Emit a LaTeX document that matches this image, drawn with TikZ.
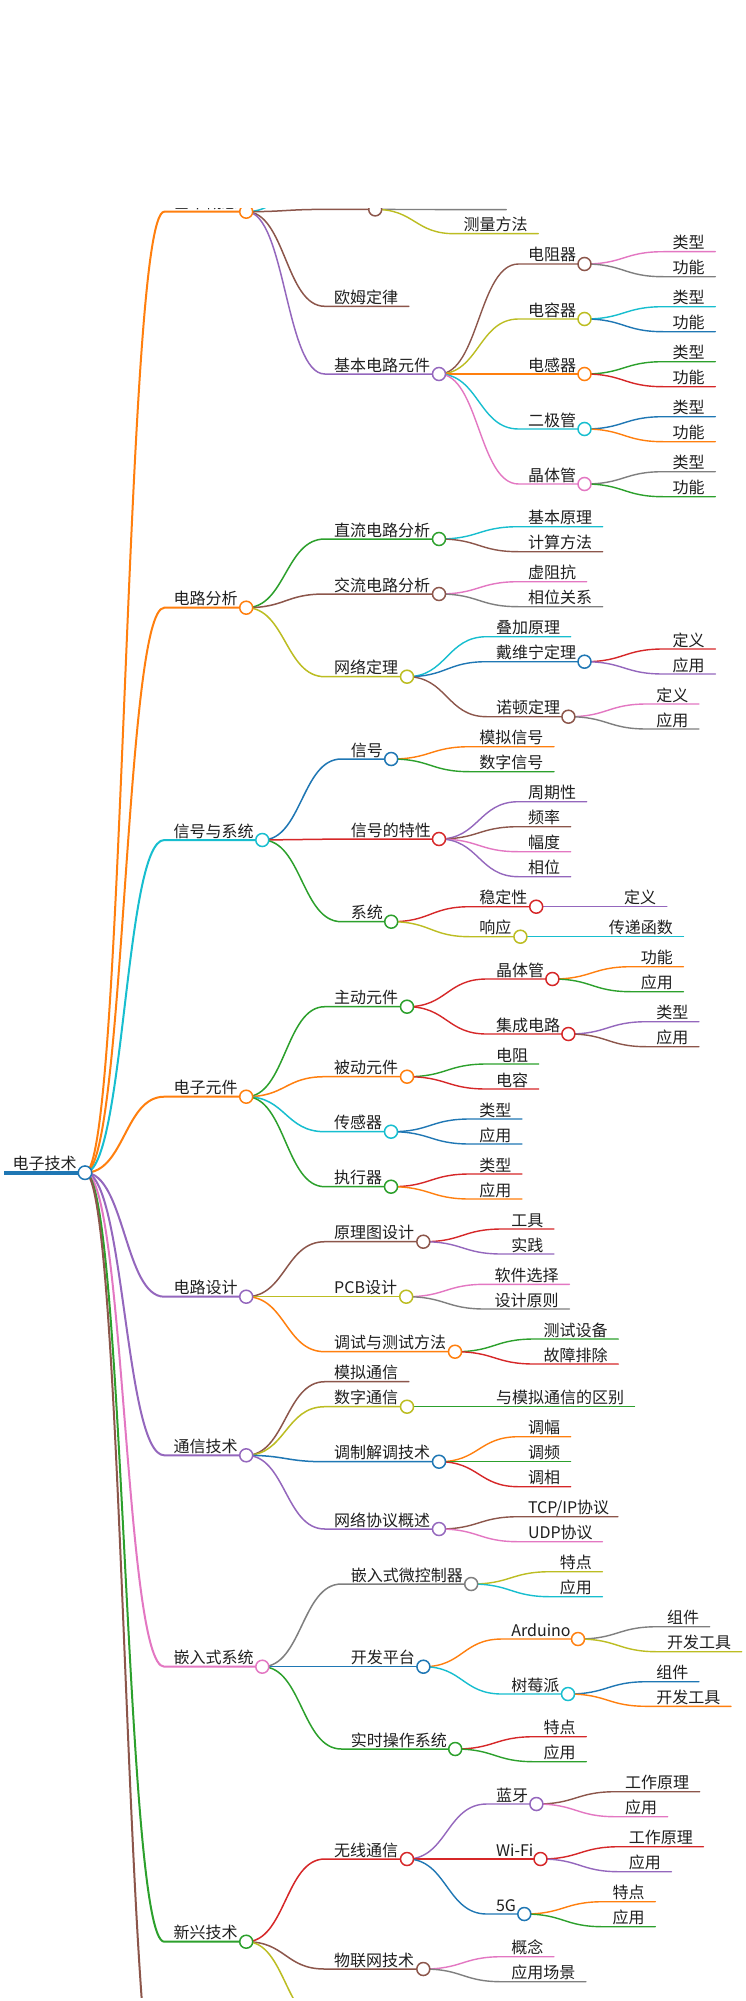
\documentclass[tikz,border=0pt]{standalone}
\usepackage{fontspec}
\setmainfont{Noto Sans CJK SC}
\usetikzlibrary{calc}
\definecolor{cblue}{HTML}{1F77B4}
\definecolor{corange}{HTML}{FF7F0E}
\definecolor{cgreen}{HTML}{2CA02C}
\definecolor{cred}{HTML}{D62728}
\definecolor{cpurple}{HTML}{9467BD}
\definecolor{cbrown}{HTML}{8C564B}
\definecolor{cpink}{HTML}{E377C2}
\definecolor{cgray}{HTML}{7F7F7F}
\definecolor{colive}{HTML}{BCBD22}
\definecolor{cteal}{HTML}{17BECF}
\tikzset{
  lvA/.style={line width=2pt},
  lvB/.style={line width=1.5pt},
  lvC/.style={line width=1.4pt},
  link/.style={line cap=round},
  dotmark/.style={circle,fill=white,line width=1.5pt,minimum size=13pt,inner sep=0pt},
  lbl/.style={anchor=base west,inner sep=0pt,text=black!88,font=\fontsize{16}{18}\selectfont},
}
% connector pass
\newcommand{\ConnPass}[7]{%
  \coordinate (#1s) at (#5,#7);
  \coordinate (#1) at (#6,#7);
  \draw[link,#3,#4] (#2) .. controls ($(#2)!0.5!(#2 -| #1s)$) and ($(#1s)!0.5!(#1s -| #2)$) .. (#1s) -- (#1);
}
\newcommand{\BrA}[8]{\ConnPass{#1}{#2}{#3}{#4}{#5}{#6}{#7}}
\newcommand{\LfA}[8]{\ConnPass{#1}{#2}{#3}{#4}{#5}{#6}{#7}}
\newcommand{\BnA}[7]{\ConnPass{#1}{#2}{#3}{#4}{#5}{#6}{#7}}
\newcommand{\CnA}[7]{\ConnPass{#1}{#2}{#3}{#4}{#5}{#6}{#7}}
% marks and labels pass
\newcommand{\BrB}[8]{%
  \node[dotmark,draw=#3] (#1dot) at (#1) {};
  \node[lbl] (#1txt) at ([xshift=9.2pt,yshift=3pt]#1s) {#8};
}
\newcommand{\LfB}[8]{%
  \node[lbl] (#1txt) at ([xshift=9.2pt,yshift=3pt]#1s) {#8};
}
\newcommand{\BnB}[7]{\node[dotmark,draw=#3] (#1dot) at (#1) {};}
\newcommand{\CnB}[7]{}
\newcommand{\TreeData}{%
% 1 basic
\Br{a}{r}{corange}{lvA}{164.3}{246.2}{211.7}{基本概念}
\Cn{az}{a}{cteal}{lvB}{324.8}{380}{170}
\Bn{aa}{a}{cbrown}{lvB}{324.8}{375.2}{209.4}
\Cn{aaa}{aa}{cgray}{lvC}{454.3}{506.2}{209.6}
\Lf{aab}{aa}{colive}{lvC}{454.3}{538.3}{233.7}{测量方法}
\Lf{ab}{a}{cbrown}{lvB}{324.8}{408.8}{306.3}{欧姆定律}
\Br{ac}{a}{cpurple}{lvB}{324.8}{439}{374}{基本电路元件}
\Br{aca}{ac}{cbrown}{lvC}{518.6}{584.5}{264}{电阻器}
\Lf{acaa}{aca}{cpink}{lvC}{663.3}{715.3}{251.7}{类型}
\Lf{acab}{aca}{cgray}{lvC}{663.3}{715.3}{276.7}{功能}
\Br{acb}{ac}{colive}{lvC}{518.6}{584.5}{319}{电容器}
\Lf{acba}{acb}{cteal}{lvC}{663.3}{715.3}{306.7}{类型}
\Lf{acbb}{acb}{cblue}{lvC}{663.3}{715.3}{331.7}{功能}
\Br{acc}{ac}{corange}{lvC}{518.6}{584.5}{374}{电感器}
\Lf{acca}{acc}{cgreen}{lvC}{663.3}{715.3}{361.7}{类型}
\Lf{accb}{acc}{cred}{lvC}{663.3}{715.3}{386.7}{功能}
\Br{acd}{ac}{cteal}{lvC}{518.6}{584.5}{429}{二极管}
\Lf{acda}{acd}{cblue}{lvC}{663.3}{715.3}{416.7}{类型}
\Lf{acdb}{acd}{corange}{lvC}{663.3}{715.3}{441.7}{功能}
\Br{ace}{ac}{cpink}{lvC}{518.6}{584.5}{484}{晶体管}
\Lf{acea}{ace}{cgray}{lvC}{663.3}{715.3}{471.7}{类型}
\Lf{aceb}{ace}{cgreen}{lvC}{663.3}{715.3}{496.7}{功能}
% 2 circuit analysis
\Br{b}{r}{corange}{lvA}{164.3}{246.2}{607.7}{电路分析}
\Br{ba}{b}{cgreen}{lvB}{324.8}{439}{539}{直流电路分析}
\Lf{baa}{ba}{cteal}{lvC}{518.6}{602.6}{526.7}{基本原理}
\Lf{bab}{ba}{cbrown}{lvC}{518.6}{602.6}{551.7}{计算方法}
\Br{bb}{b}{cbrown}{lvB}{324.8}{439}{594}{交流电路分析}
\Lf{bba}{bb}{cpink}{lvC}{518.6}{586.6}{581.7}{虚阻抗}
\Lf{bbb}{bb}{cgray}{lvC}{518.6}{602.6}{606.7}{相位关系}
\Br{bc}{b}{colive}{lvB}{324.8}{407}{676.7}{网络定理}
\Lf{bca}{bc}{cteal}{lvC}{486.7}{570.7}{636.7}{叠加原理}
\Br{bcb}{bc}{cblue}{lvC}{486.7}{584.5}{661.7}{戴维宁定理}
\Lf{bcba}{bcb}{cred}{lvC}{663.3}{715.3}{649}{定义}
\Lf{bcbb}{bcb}{cpurple}{lvC}{663.3}{715.3}{674}{应用}
\Br{bcc}{bc}{cbrown}{lvC}{486.7}{568.4}{716.7}{诺顿定理}
\Lf{bcca}{bcc}{cpink}{lvC}{647}{699}{704}{定义}
\Lf{bccb}{bcc}{cgray}{lvC}{647}{699}{729}{应用}
% 3 signals
\Br{c}{r}{cteal}{lvA}{164.3}{262.3}{840}{信号与系统}
\Br{ca}{c}{cblue}{lvB}{341.4}{391.2}{759}{信号}
\Lf{caa}{ca}{corange}{lvC}{470}{554}{746.7}{模拟信号}
\Lf{cab}{ca}{cgreen}{lvC}{470}{554}{771.7}{数字信号}
\Br{cb}{c}{cred}{lvB}{341.4}{439}{839}{信号的特性}
\Lf{cba}{cb}{cpurple}{lvC}{518.6}{586.6}{801.7}{周期性}
\Lf{cbb}{cb}{cbrown}{lvC}{518.6}{570.6}{826.7}{频率}
\Lf{cbc}{cb}{cpink}{lvC}{518.6}{570.6}{851.7}{幅度}
\Lf{cbd}{cb}{cpurple}{lvC}{518.6}{570.6}{876.7}{相位}
\Br{cc}{c}{cgreen}{lvB}{341.4}{391.2}{921.7}{系统}
\Br{cca}{cc}{cred}{lvC}{470}{536.2}{906.7}{稳定性}
\Lf{ccaa}{cca}{cpurple}{lvC}{614.8}{666.8}{906.7}{定义}
\Br{ccb}{cc}{colive}{lvC}{470}{520.4}{936.7}{响应}
\Lf{ccba}{ccb}{cteal}{lvC}{599.5}{683.5}{936.7}{传递函数}
% 4 components
\Br{d}{r}{corange}{lvA}{164.3}{246.2}{1096.7}{电子元件}
\Br{da}{d}{cgreen}{lvB}{324.8}{407}{1006.7}{主动元件}
\Br{daa}{da}{cred}{lvC}{486.7}{552.4}{979}{晶体管}
\Lf{daaa}{daa}{corange}{lvC}{631.4}{683.4}{966.7}{功能}
\Lf{daab}{daa}{cgreen}{lvC}{631.4}{683.4}{991.7}{应用}
\Br{dab}{da}{cred}{lvC}{486.7}{568.4}{1034}{集成电路}
\Lf{daba}{dab}{cpurple}{lvC}{647}{699}{1021.7}{类型}
\Lf{dabb}{dab}{cbrown}{lvC}{647}{699}{1046.7}{应用}
\Br{db}{d}{corange}{lvB}{324.8}{407}{1076.7}{被动元件}
\Lf{dba}{db}{cgreen}{lvC}{486.7}{538.7}{1064}{电阻}
\Lf{dbb}{db}{cred}{lvC}{486.7}{538.7}{1089}{电容}
\Br{dc}{d}{cteal}{lvB}{324.8}{391}{1131.7}{传感器}
\Lf{dca}{dc}{cblue}{lvC}{470}{522}{1119}{类型}
\Lf{dcb}{dc}{cblue}{lvC}{470}{522}{1144}{应用}
\Br{dd}{d}{cgreen}{lvB}{324.8}{391}{1186.7}{执行器}
\Lf{dda}{dd}{cred}{lvC}{470}{522}{1174}{类型}
\Lf{ddb}{dd}{corange}{lvC}{470}{522}{1199}{应用}
% 5 circuit design
\Br{e}{r}{cpurple}{lvA}{164.3}{246.2}{1296.7}{电路设计}
\Br{ea}{e}{cbrown}{lvB}{324.8}{423.3}{1241.7}{原理图设计}
\Lf{eaa}{ea}{cred}{lvC}{502}{554}{1229}{工具}
\Lf{eab}{ea}{cpurple}{lvC}{502}{554}{1254}{实践}
\Br{eb}{e}{colive}{lvB}{324.8}{406.2}{1296.7}{PCB设计}
\Lf{eba}{eb}{cpink}{lvC}{485.2}{569.4}{1284.3}{软件选择}
\Lf{ebb}{eb}{cgray}{lvC}{485.2}{569.4}{1309}{设计原则}
\Br{ec}{e}{corange}{lvB}{324.8}{455}{1351.7}{调试与测试方法}
\Lf{eca}{ec}{cgreen}{lvC}{534.3}{618.3}{1339}{测试设备}
\Lf{ecb}{ec}{cred}{lvC}{534.3}{618.3}{1364}{故障排除}
% 6 communications
\Br{f}{r}{cpurple}{lvA}{164.3}{246.2}{1455.3}{通信技术}
\Lf{fa}{f}{cbrown}{lvB}{324.8}{408.8}{1381.7}{模拟通信}
\Br{fb}{f}{colive}{lvB}{324.8}{407}{1406.7}{数字通信}
\Lf{fba}{fb}{cgreen}{lvC}{486.7}{634.5}{1406.7}{与模拟通信的区别}
\Br{fc}{f}{cblue}{lvB}{324.8}{439}{1461.7}{调制解调技术}
\Lf{fca}{fc}{corange}{lvC}{518.6}{570.6}{1436.7}{调幅}
\Lf{fcb}{fc}{cgreen}{lvC}{518.6}{570.6}{1461.7}{调频}
\Lf{fcc}{fc}{cred}{lvC}{518.6}{570.6}{1486.7}{调相}
\Br{fd}{f}{cpurple}{lvB}{324.8}{439}{1529}{网络协议概述}
\Lf{fda}{fd}{cbrown}{lvC}{518.6}{618}{1516.7}{TCP/IP协议}
\Lf{fdb}{fd}{cpink}{lvC}{518.6}{602.4}{1541.7}{UDP协议}
% 7 embedded
\Br{g}{r}{cpink}{lvA}{164.3}{262.3}{1666.7}{嵌入式系统}
\Br{ga}{g}{cgray}{lvB}{341.4}{471.2}{1584}{嵌入式微控制器}
\Lf{gaa}{ga}{colive}{lvC}{550.5}{602.5}{1571.7}{特点}
\Lf{gab}{ga}{cteal}{lvC}{550.5}{602.5}{1596.7}{应用}
\Br{gb}{g}{cblue}{lvB}{341.4}{423.4}{1666.7}{开发平台}
\Br{gba}{gb}{corange}{lvC}{502}{578}{1639}{Arduino}
\Lf{gbaa}{gba}{cgray}{lvC}{657.6}{709.6}{1626.7}{组件}
\Lf{gbab}{gba}{colive}{lvC}{657.6}{741.6}{1651.7}{开发工具}
\Br{gbb}{gb}{cteal}{lvC}{502}{568}{1694}{树莓派}
\Lf{gbba}{gbb}{cblue}{lvC}{647}{699}{1681.7}{组件}
\Lf{gbbb}{gbb}{corange}{lvC}{647}{731}{1706.3}{开发工具}
\Br{gc}{g}{cgreen}{lvB}{341.4}{455.2}{1749}{实时操作系统}
\Lf{gca}{gc}{cred}{lvC}{534.3}{586.3}{1736.7}{特点}
\Lf{gcb}{gc}{cgreen}{lvC}{534.3}{586.3}{1761.7}{应用}
% 8 emerging
\Br{h}{r}{cgreen}{lvA}{164.3}{246.2}{1941.7}{新兴技术}
\Br{ha}{h}{cred}{lvB}{324.8}{407}{1859}{无线通信}
\Br{haa}{ha}{cpurple}{lvC}{486.7}{536.4}{1804}{蓝牙}
\Lf{haaa}{haa}{cbrown}{lvC}{615.7}{699.7}{1791.7}{工作原理}
\Lf{haab}{haa}{cpink}{lvC}{615.7}{667.7}{1816.7}{应用}
\Br{hab}{ha}{cred}{lvC}{486.7}{540.5}{1859}{Wi-Fi}
\Lf{haba}{hab}{cred}{lvC}{619.5}{703.5}{1846.7}{工作原理}
\Lf{habb}{hab}{cpurple}{lvC}{619.5}{671.5}{1871.7}{应用}
\Br{hac}{ha}{cblue}{lvC}{486.7}{524.3}{1914}{5G}
\Lf{haca}{hac}{corange}{lvC}{603.3}{655.3}{1901.7}{特点}
\Lf{hacb}{hac}{cgreen}{lvC}{603.3}{655.3}{1926.7}{应用}
\Br{hb}{h}{cbrown}{lvB}{324.8}{423.3}{1969}{物联网技术}
\Lf{hba}{hb}{cpink}{lvC}{502}{554}{1956.7}{概念}
\Lf{hbb}{hb}{cgray}{lvC}{502}{586}{1981.7}{应用场景}
\Cn{hc}{h}{colive}{lvB}{324.8}{420}{2024}
% 9 running off the bottom edge
\Cn{i}{r}{cbrown}{lvA}{164.3}{246.2}{2136}
}
\begin{document}
\begin{tikzpicture}[x=1pt,y=-1pt]
\useasboundingbox (0,0) rectangle (746,2001);
\fill[white] (0,0) rectangle (746,2001);
\begin{scope}
\clip (0,209) rectangle (746,1997);
\coordinate (r) at (85,1172.7);
\coordinate (r0) at (4,1172.7);
\let\Br\BrA \let\Lf\LfA \let\Bn\BnA \let\Cn\CnA
\TreeData
\draw[cblue,line width=4.2pt] (r0) -- (r);
\let\Br\BrB \let\Lf\LfB \let\Bn\BnB \let\Cn\CnB
\TreeData
\node[dotmark,draw=cblue,minimum size=13.5pt] (rdot) at (r) {};
\node[lbl] (rtxt) at (12.5,1169.7) {电子技术};
\end{scope}
\end{tikzpicture}
\end{document}
